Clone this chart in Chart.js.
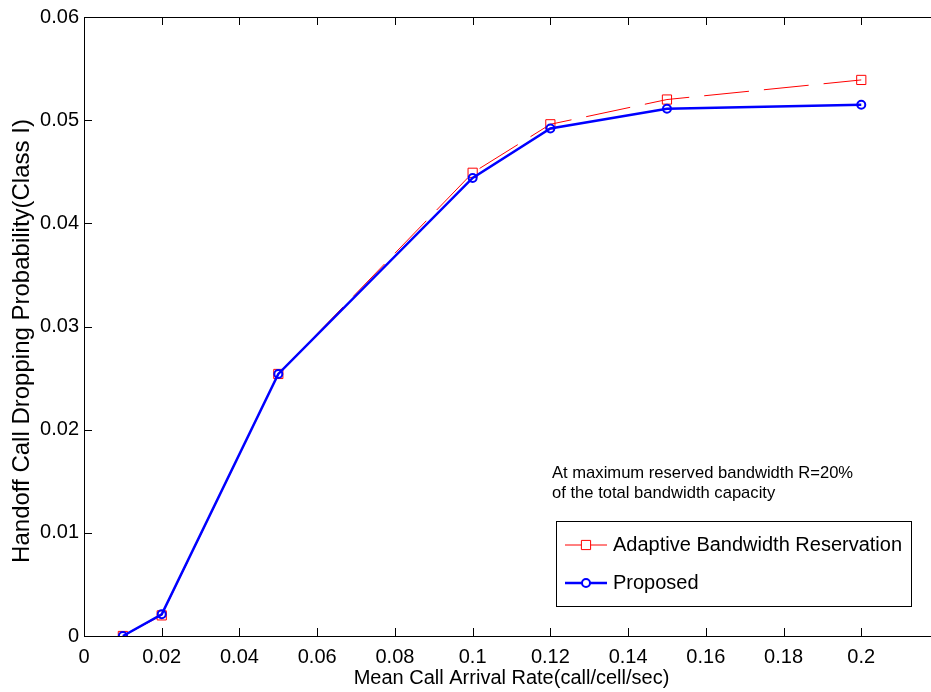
<!DOCTYPE html>
<html>
<head>
<meta charset="utf-8">
<script src="https://cdn.jsdelivr.net/npm/chart.js@4/dist/chart.umd.min.js"></script>
<style>
  html, body { margin: 0; padding: 0; background: #fff; overflow: hidden; }
</style>
</head>
<body>
<canvas id="line-chart" width="960" height="692"></canvas>
<script>
// values
var arrivalRate = [0.01, 0.02, 0.05, 0.1, 0.12, 0.15, 0.2];
var adaptive = [0, 0.002, 0.0254, 0.0449, 0.0496, 0.0520, 0.0539];
var proposed = [0, 0.0021, 0.0254, 0.0444, 0.0492, 0.0511, 0.0515];
var seriesNames = ['Adaptive Bandwidth Reservation', 'Proposed'];
var noteLines = ['At maximum reserved bandwidth R=20%', 'of the total bandwidth capacity'];
var yTitle = 'Handoff Call Dropping Probability(Class I)';

var FONT = '"Liberation Sans", Arial, sans-serif';

function toPoints(xs, ys) {
    var pts = [];
    for (var i = 0; i < xs.length; i++) {
        pts.push({ x: xs[i], y: ys[i] });
    }
    return pts;
}

function fmt(v) {
    return String(Math.round(v * 1000) / 1000);
}

// box, inward ticks, y label, note text and legend (matlab style)
var matlabAxes = {
    id: 'matlabAxes',
    afterDatasetsDraw: function(chart) {
        var ctx = chart.ctx;
        var a = chart.chartArea;
        var xs = chart.scales.x, ys = chart.scales.y;
        var tl = 8;
        ctx.save();
        ctx.strokeStyle = '#000';
        ctx.lineWidth = 1;
        ctx.beginPath();
        ctx.rect(a.left + 0.5, a.top + 0.5, a.right - a.left, a.bottom - a.top);
        xs.ticks.forEach(function(t) {
            var px = Math.round(xs.getPixelForValue(t.value)) + 0.5;
            ctx.moveTo(px, a.bottom); ctx.lineTo(px, a.bottom - tl);
            ctx.moveTo(px, a.top); ctx.lineTo(px, a.top + tl);
        });
        ys.ticks.forEach(function(t) {
            var py = Math.round(ys.getPixelForValue(t.value)) + 0.5;
            ctx.moveTo(a.left, py); ctx.lineTo(a.left + tl, py);
            ctx.moveTo(a.right, py); ctx.lineTo(a.right - tl, py);
        });
        ctx.stroke();

        // y label (sits a bit below the axis centre in the original)
        ctx.save();
        ctx.translate(22, 341);
        ctx.rotate(-Math.PI / 2);
        ctx.fillStyle = '#000';
        ctx.font = '24px ' + FONT;
        ctx.textAlign = 'center';
        ctx.textBaseline = 'middle';
        ctx.fillText(yTitle, 0, 0);
        ctx.restore();

        // note
        ctx.fillStyle = '#000';
        ctx.font = '16.6px ' + FONT;
        ctx.textBaseline = 'middle';
        ctx.textAlign = 'left';
        ctx.fillText(noteLines[0], 552, 473);
        ctx.fillText(noteLines[1], 552, 493);

        // legend
        var box = { l: 556, t: 521, r: 911, b: 606 };
        ctx.fillStyle = '#fff';
        ctx.fillRect(box.l, box.t, box.r - box.l, box.b - box.t);
        ctx.strokeStyle = '#000';
        ctx.strokeRect(box.l + 0.5, box.t + 0.5, box.r - box.l, box.b - box.t);
        var rows = [545, 583];
        [0, 1].forEach(function(k, i) {
            var ds = chart.data.datasets.filter(function(d) { return d.label === seriesNames[k]; })[0];
            var y = rows[i];
            ctx.save();
            ctx.strokeStyle = ds.borderColor;
            ctx.lineWidth = ds.borderWidth;
            ctx.beginPath();
            ctx.moveTo(565, y); ctx.lineTo(607, y);
            ctx.stroke();
            ctx.fillStyle = '#fff';
            ctx.strokeStyle = ds.pointBorderColor;
            ctx.lineWidth = ds.pointBorderWidth;
            Chart.helpers.drawPoint(ctx, {
                pointStyle: ds.pointStyle,
                radius: ds.pointRadius,
                borderWidth: ds.pointBorderWidth,
                rotation: 0
            }, 586, y);
            ctx.restore();
            ctx.fillStyle = '#000';
            ctx.font = '20px ' + FONT;
            ctx.fillText(seriesNames[k], 613, y);
        });
        ctx.restore();
    }
};

var ctx = document.getElementById('line-chart');
var chart = new Chart(ctx, {
    type: 'line',
    data: {
        datasets: [{
            label: seriesNames[0],
            data: toPoints(arrivalRate, adaptive),
            borderColor: '#ff0000',
            borderWidth: 1,
            borderDash: [45, 15],
            pointStyle: 'rect',
            pointRadius: 6.5,
            pointBorderWidth: 1,
            pointBorderColor: '#ff0000',
            pointBackgroundColor: 'rgba(0,0,0,0)',
            order: 2
        }, {
            label: seriesNames[1],
            data: toPoints(arrivalRate, proposed),
            borderColor: '#0000ff',
            borderWidth: 2.5,
            pointStyle: 'circle',
            pointRadius: 4,
            pointBorderWidth: 2,
            pointBorderColor: '#0000ff',
            pointBackgroundColor: 'rgba(0,0,0,0)',
            order: 1
        }]
    },
    options: {
        responsive: false,
        animation: false,
        layout: { padding: { top: 16, right: 21, left: 0, bottom: 0 } },
        plugins: {
            legend: { display: false },
            tooltip: { enabled: false }
        },
        scales: {
            x: {
                type: 'linear',
                min: 0,
                max: 0.22,
                afterFit: function(s) { s.height = 56; },
                grid: { display: false, drawTicks: false },
                border: { display: false },
                ticks: {
                    stepSize: 0.02,
                    padding: 9,
                    color: '#000',
                    maxRotation: 0,
                    font: { family: FONT, size: 20 },
                    callback: function(v) { return v > 0.201 ? '' : fmt(v); }
                },
                title: {
                    display: true,
                    text: 'Mean Call Arrival Rate(call/cell/sec)',
                    color: '#000',
                    font: { family: FONT, size: 20 },
                    padding: { top: 0, bottom: 2 }
                }
            },
            y: {
                min: 0,
                max: 0.06,
                afterFit: function(s) { s.width = 84; },
                grid: { display: false, drawTicks: false },
                border: { display: false },
                ticks: {
                    stepSize: 0.01,
                    padding: 5,
                    color: '#000',
                    font: { family: FONT, size: 20 },
                    callback: function(v) { return fmt(v); }
                },
                title: { display: false }
            }
        }
    },
    plugins: [matlabAxes]
});
</script>
</body>
</html>
